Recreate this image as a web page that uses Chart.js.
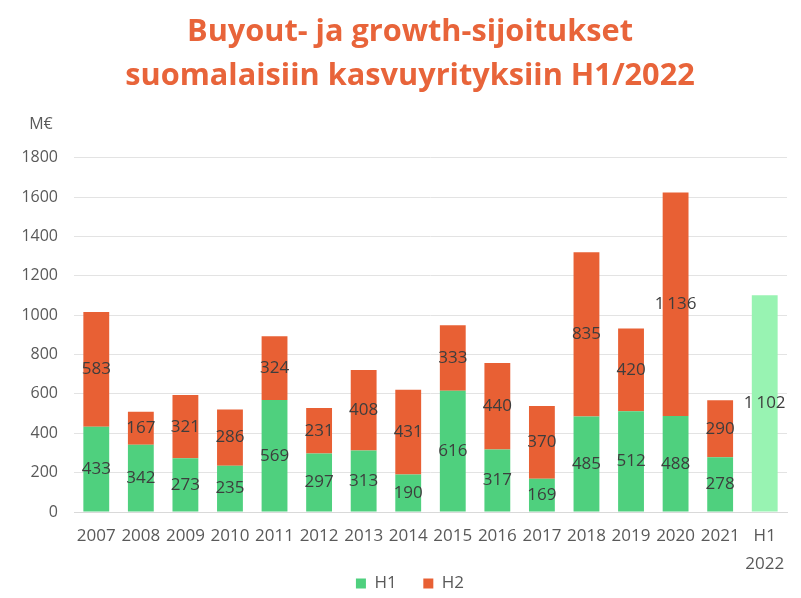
<!DOCTYPE html>
<html>
<head>
<meta charset="utf-8">
<script src="https://cdn.jsdelivr.net/npm/chart.js@4/dist/chart.umd.min.js"></script>
<style>
html,body{margin:0;padding:0;background:#fff;}
#wrap{width:801px;height:598px;position:relative;}
</style>
</head>
<body>
<div id="wrap"><canvas id="c" width="801" height="598"></canvas></div>
<script>
const categories = ['2007','2008','2009','2010','2011','2012','2013','2014','2015','2016','2017','2018','2019','2020','2021',['H1','2022']];
const h1Values = [433,342,273,235,569,297,313,190,616,317,169,485,512,488,278,1102];
const h2Values = [583,167,321,286,324,231,408,431,333,440,370,835,420,1136,290,null];
const seriesNames = ['H1','H2'];
const titleLines = ['Buyout- ja growth-sijoitukset','suomalaisiin kasvuyrityksiin H1/2022'];
const unitLabel = 'M€';

const GREEN = '#4FD07E';
const GREEN_LIGHT = '#98F3B2';
const ORANGE = '#E86034';
const TEXT = '#595959';
const FONT = "'Open Sans', 'DejaVu Sans', sans-serif";

function fmt(v){
  const s = String(v);
  return s.length > 3 ? s.slice(0, s.length-3) + '\u2009' + s.slice(-3) : s;
}

const labelPlugin = {
  id: 'labels',
  afterDatasetsDraw(chart){
    const ctx = chart.ctx;
    ctx.save();
    ctx.font = "17px " + FONT;
    ctx.fillStyle = '#3d3d3d';
    ctx.textAlign = 'center';
    ctx.textBaseline = 'middle';
    chart.data.datasets.forEach((ds, di) => {
      const meta = chart.getDatasetMeta(di);
      meta.data.forEach((el, i) => {
        const v = ds.data[i];
        if (v == null) return;
        ctx.fillText(fmt(v), el.x, (el.y + el.base) / 2);
      });
    });
    const ca = chart.chartArea;
    ctx.fillStyle = TEXT;
    ctx.font = "16px " + FONT;
    ctx.fillText(unitLabel, ca.left - 33, ca.top - 33);
    ctx.restore();
  }
};

new Chart(document.getElementById('c'), {
  type: 'bar',
  data: {
    labels: categories,
    datasets: [
      {
        label: seriesNames[0],
        data: h1Values,
        backgroundColor: h1Values.map((v,i) => i === h1Values.length-1 ? GREEN_LIGHT : GREEN),
        borderWidth: 0,
        barPercentage: 0.58,
        categoryPercentage: 1.0
      },
      {
        label: seriesNames[1],
        data: h2Values,
        backgroundColor: ORANGE,
        borderWidth: 0,
        barPercentage: 0.58,
        categoryPercentage: 1.0
      }
    ]
  },
  options: {
    responsive: false,
    animation: false,
    devicePixelRatio: 1,
    layout: { padding: { left: 19, right: 0, top: 10, bottom: -4 } },
    plugins: {
      title: {
        display: true,
        text: titleLines,
        color: '#E8643A',
        font: { family: FONT, size: 30.7, weight: 'bold', lineHeight: 1.43 },
        padding: { top: 0, bottom: 60 }
      },
      legend: {
        position: 'bottom',
        labels: {
          color: TEXT,
          font: { family: FONT, size: 17 },
          boxWidth: 10,
          boxHeight: 10,
          padding: 4,
          generateLabels(chart){
            return chart.data.datasets.map((ds, i) => ({
              text: i === 0 ? ds.label + '\u2003\u2009\u2009' : ds.label,
              fillStyle: i === 0 ? GREEN : ORANGE,
              strokeStyle: 'transparent',
              lineWidth: 0,
              datasetIndex: i,
              fontColor: TEXT
            }));
          }
        }
      },
      tooltip: { enabled: false }
    },
    scales: {
      x: {
        stacked: true,
        grid: { display: false, drawTicks: false },
        border: { display: true, color: '#d9d9d9' },
        ticks: { color: TEXT, font: { family: FONT, size: 17, lineHeight: 1.6 }, padding: 11, maxRotation: 0, autoSkip: false },
        afterFit(scale){ scale.height = 59; }
      },
      y: {
        stacked: true,
        min: 0,
        max: 1800,
        grid: { color: '#e3e3e3', drawTicks: false },
        border: { display: false },
        ticks: { stepSize: 200, color: TEXT, font: { family: FONT, size: 16 }, padding: 16, callback: v => String(v) },
        afterFit(scale){ scale.width = 55; }
      },
      yRight: {
        type: 'linear',
        position: 'right',
        display: true,
        grid: { display: false, drawTicks: false },
        border: { display: false },
        ticks: { display: false },
        afterFit(scale){ scale.width = 14; }
      }
    }
  },
  plugins: [labelPlugin]
});
</script>
</body>
</html>
